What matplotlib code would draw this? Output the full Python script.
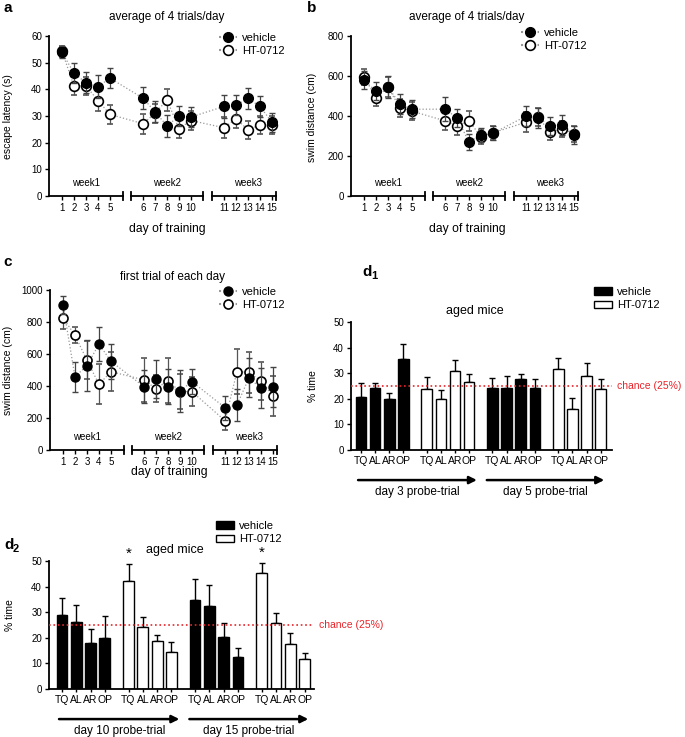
import matplotlib
matplotlib.use("Agg")
import matplotlib.pyplot as plt
from matplotlib.lines import Line2D
from matplotlib.patches import Patch

plt.rcParams['font.family'] = ['Liberation Sans', 'DejaVu Sans']

# ---- data ----
days = list(range(1, 16))

# a: escape latency (s), average of 4 trials/day
a_veh = [54.0, 46.0, 42.5, 41.0, 44.2, 36.7, 31.6, 26.3, 30.0, 29.6, 33.6, 34.1, 36.6, 33.6, 27.6]
a_veh_err = [2.3, 3.7, 4.0, 4.2, 3.8, 4.2, 4.0, 4.2, 3.7, 3.8, 4.2, 3.8, 4.0, 3.9, 3.6]
a_ht = [54.3, 41.3, 41.3, 35.8, 30.6, 27.1, 31.0, 36.0, 25.3, 28.3, 25.6, 29.0, 24.8, 26.6, 26.6]
a_ht_err = [2.0, 3.3, 3.5, 4.0, 3.5, 3.8, 3.5, 4.0, 3.5, 3.5, 4.0, 3.5, 3.5, 3.5, 3.5]

# b: swim distance (cm), average of 4 trials/day
b_veh = [579, 524, 543, 461, 434, 434, 391, 270, 307, 314, 399, 392, 352, 356, 307]
b_veh_err = [45, 45, 55, 50, 45, 60, 45, 40, 35, 35, 50, 50, 45, 50, 45]
b_ht = [596, 492, 543, 442, 424, 376, 351, 376, 296, 316, 369, 396, 319, 336, 312]
b_ht_err = [40, 40, 50, 45, 45, 45, 45, 50, 35, 35, 50, 45, 40, 40, 40]

# c: swim distance (cm), first trial of each day
c_veh = [908, 458, 527, 662, 554, 396, 442, 396, 369, 427, 265, 281, 452, 385, 396]
c_veh_err = [55, 95, 160, 105, 110, 105, 120, 110, 130, 80, 75, 100, 120, 125, 125]
c_ht = [827, 717, 562, 410, 490, 438, 383, 433, 365, 365, 183, 490, 485, 431, 338]
c_ht_err = [70, 50, 120, 125, 120, 140, 85, 140, 110, 90, 60, 140, 130, 120, 125]

# d: % time in quadrant
quadrants = ['TQ', 'AL', 'AR', 'OP']
d1_vals = [20.8, 24.1, 19.9, 35.5, 23.7, 19.8, 30.7, 26.7,
           24.3, 24.1, 27.6, 24.3, 31.8, 16.1, 28.9, 23.7]
d1_err = [5.2, 2.0, 2.5, 6.0, 4.7, 3.6, 4.5, 3.0,
          4.0, 4.9, 2.1, 3.6, 4.1, 4.3, 5.0, 4.0]
d1_trials = ['day 3 probe-trial', 'day 5 probe-trial']

d2_vals = [28.9, 26.0, 17.8, 19.8, 42.3, 24.3, 18.9, 14.6,
           34.9, 32.6, 20.2, 12.5, 45.2, 25.7, 17.4, 11.9]
d2_err = [6.5, 6.8, 5.6, 8.7, 6.4, 3.7, 2.1, 3.9,
          7.9, 8.0, 5.5, 3.6, 3.9, 3.9, 4.6, 2.3]
d2_trials = ['day 10 probe-trial', 'day 15 probe-trial']
chance = 25

W, H = 685, 737
fig = plt.figure(figsize=(W / 100, H / 100), dpi=100)


def px_axes(left, top, right, bottom):
    return fig.add_axes([left / W, 1 - bottom / H, (right - left) / W, (bottom - top) / H])


def ftext(x, y, s, **kw):
    fig.text(x / W, 1 - y / H, s, **kw)


day_pos = [d + 1.75 * ((d - 1) // 5) for d in days]


def line_panel(ax, veh, veh_err, ht, ht_err, ymax, ystep, ms):
    ax.errorbar(day_pos, ht, yerr=ht_err, fmt='o', mfc='white', mec='black', ms=ms,
                mew=1.2, ecolor='#555555', elinewidth=0.9, capsize=2.5, zorder=3)
    ax.errorbar(day_pos, veh, yerr=veh_err, fmt='o', mfc='black', mec='black', ms=ms,
                ecolor='#444444', elinewidth=0.9, capsize=2.5, zorder=4)
    ax.plot(day_pos, veh, ls=':', color='#999999', lw=0.9, zorder=2)
    ax.plot(day_pos, ht, ls=':', color='#999999', lw=0.9, zorder=2)
    ax.set_xlim(-0.08, 19)
    ax.set_ylim(0, ymax)
    ax.set_yticks(range(0, ymax + 1, ystep))
    ax.set_xticks(day_pos)
    ax.set_xticklabels([str(d) for d in days])
    for s in ['top', 'right', 'bottom']:
        ax.spines[s].set_visible(False)
    ax.spines['left'].set_linewidth(1.3)
    ax.tick_params(labelsize=7, length=3, width=1, pad=2)
    tr = ax.get_xaxis_transform()
    for x0, x1, caps in [(-0.08, 6.08, [6.08]), (6.75, 12.75, [6.75, 12.75]),
                         (13.5, 18.83, [13.5, 18.83])]:
        ax.plot([x0, x1], [0, 0], color='black', lw=1.3, transform=tr, clip_on=False)
        for c in caps:
            ax.plot([c, c], [-0.025, 0.025], color='black', lw=1.3, transform=tr, clip_on=False)
    for xc, wk in [(3, 'week1'), (9.75, 'week2'), (16.5, 'week3')]:
        ax.text(xc, 0.08, wk, transform=tr, ha='center', va='center', fontsize=7)


def line_legend(ax, x, y, ms):
    h = [Line2D([], [], ls=':', color='#999999', marker='o', mfc='black', mec='black', ms=ms),
         Line2D([], [], ls=':', color='#999999', marker='o', mfc='white', mec='black', ms=ms, mew=1.2)]
    ax.legend(h, ['vehicle', 'HT-0712'], loc='upper left', bbox_to_anchor=(x / W, 1 - y / H),
              bbox_transform=fig.transFigure, frameon=False, fontsize=8, handlelength=1.6,
              handletextpad=0.5, labelspacing=0.25, borderpad=0, borderaxespad=0)


# ---- panel a ----
ax_a = px_axes(49, 36, 278, 196)
line_panel(ax_a, a_veh, a_veh_err, a_ht, a_ht_err, 60, 10, 7)
line_legend(ax_a, 219, 33, 7)
ftext(167, 17, 'average of 4 trials/day', ha='center', va='center', fontsize=8.5)
ftext(167, 229, 'day of training', ha='center', va='center', fontsize=8.7)
ftext(8, 117, 'escape latency (s)', rotation=90, ha='center', va='center', fontsize=7.5)
ftext(3, 8, 'a', fontsize=11, fontweight='bold', va='center')

# ---- panel b ----
ax_b = px_axes(351, 36, 580, 196)
line_panel(ax_b, b_veh, b_veh_err, b_ht, b_ht_err, 800, 200, 7)
line_legend(ax_b, 521, 28, 7)
ftext(467, 17, 'average of 4 trials/day', ha='center', va='center', fontsize=8.5)
ftext(467, 229, 'day of training', ha='center', va='center', fontsize=8.7)
ftext(312, 117, 'swim distance (cm)', rotation=90, ha='center', va='center', fontsize=7.5)
ftext(307, 8, 'b', fontsize=11, fontweight='bold', va='center')

# ---- panel c ----
ax_c = px_axes(50, 290, 279, 450)
line_panel(ax_c, c_veh, c_veh_err, c_ht, c_ht_err, 1000, 200, 6.5)
line_legend(ax_c, 219, 287, 6.5)
ftext(172, 277, 'first trial of each day', ha='center', va='center', fontsize=8.5)
ftext(169, 472, 'day of training', ha='center', va='center', fontsize=8.7)
ftext(8, 370, 'swim distance (cm)', rotation=90, ha='center', va='center', fontsize=7.5)
ftext(3, 262, 'c', fontsize=11, fontweight='bold', va='center')

# ---- bar panels ----
bar_pos = [g * 4.65 + i for g in range(4) for i in range(4)]
bar_fill = ['black'] * 4 + ['white'] * 4 + ['black'] * 4 + ['white'] * 4


def bar_panel(ax, vals, errs, trials, xlim):
    ax.bar(bar_pos, vals, width=0.75, color=bar_fill, edgecolor='black', lw=1, zorder=2)
    ax.errorbar(bar_pos, vals, yerr=[[0] * len(errs), errs], fmt='none', ecolor='black',
                elinewidth=1, capsize=2.5, capthick=1, zorder=1)
    ax.axhline(chance, color='#e8242a', ls=':', lw=1.2, zorder=3)
    ax.text(1.02, chance, 'chance (25%)', color='#e8242a', fontsize=7.5, va='center',
            transform=ax.get_yaxis_transform())
    ax.set_xlim(*xlim)
    ax.set_ylim(0, 50)
    ax.set_yticks(range(0, 51, 10))
    ax.set_xticks(bar_pos)
    ax.set_xticklabels(quadrants * 4)
    for s in ['top', 'right']:
        ax.spines[s].set_visible(False)
    for s in ['left', 'bottom']:
        ax.spines[s].set_linewidth(1.3)
    ax.tick_params(axis='y', labelsize=7, length=3, width=1, pad=2)
    ax.tick_params(axis='x', labelsize=7.5, length=2.5, width=1, pad=2)
    tr = ax.get_xaxis_transform()
    for (x0, x1), label in zip([(-0.2, 8.2), (8.9, 17.2)], trials):
        ax.annotate('', xy=(x1, -0.235), xytext=(x0, -0.235), xycoords=tr, textcoords=tr,
                    arrowprops=dict(arrowstyle='-|>', color='black', lw=1.8, mutation_scale=11,
                                    shrinkA=0, shrinkB=0))
        ax.text((x0 + x1) / 2, -0.33, label, transform=tr, ha='center', va='center', fontsize=8.5)


def bar_legend(ax, x, y):
    h = [Patch(facecolor='black', edgecolor='black'), Patch(facecolor='white', edgecolor='black')]
    ax.legend(h, ['vehicle', 'HT-0712'], loc='upper left', bbox_to_anchor=(x / W, 1 - y / H),
              bbox_transform=fig.transFigure, frameon=False, fontsize=8, handlelength=1.6,
              handleheight=0.7, handletextpad=0.5, labelspacing=0.3, borderpad=0, borderaxespad=0)


# ---- panel d1 ----
ax_d1 = px_axes(351, 322, 612, 450)
bar_panel(ax_d1, d1_vals, d1_err, d1_trials, (-0.7, 17.75))
bar_legend(ax_d1, 594, 287)
ftext(475, 311, 'aged mice', ha='center', va='center', fontsize=9)
ftext(313, 386, '% time', rotation=90, ha='center', va='center', fontsize=7.5)
ftext(362, 272, 'd', fontsize=11, fontweight='bold', va='center')
ftext(371, 276, '1', fontsize=8, fontweight='bold', va='center')

# ---- panel d2 ----
ax_d2 = px_axes(49, 561, 314, 689)
bar_panel(ax_d2, d2_vals, d2_err, d2_trials, (-0.9, 17.6))
bar_legend(ax_d2, 216, 521)
for i in (4, 12):
    ax_d2.text(bar_pos[i], d2_vals[i] + d2_err[i] + 1.2, '*', ha='center', va='bottom',
               fontsize=11, clip_on=False)
ftext(175, 550, 'aged mice', ha='center', va='center', fontsize=9)
ftext(10, 615, '% time', rotation=90, ha='center', va='center', fontsize=7.5)
ftext(4, 545, 'd', fontsize=11, fontweight='bold', va='center')
ftext(13, 549, '2', fontsize=8, fontweight='bold', va='center')

fig.savefig('out.png', dpi=100)
